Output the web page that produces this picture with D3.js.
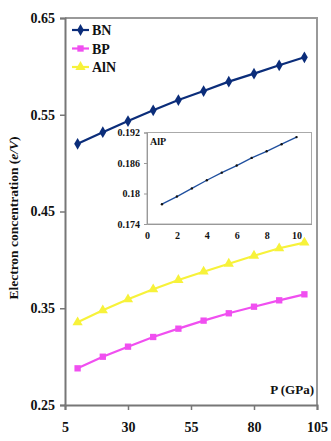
<!DOCTYPE html>
<html>
<head>
<meta charset="utf-8">
<script src="https://cdn.jsdelivr.net/npm/d3@7"></script>
<style>
  body { margin: 0; background: white; }
  svg { display: block; }
  svg text { font-family: "Liberation Serif", "Times New Roman", serif; font-weight: bold; fill: #111; }
</style>
</head>
<body>
<div id="chart"></div>
<script>
// Pressure (GPa)
const pressure = [10, 20, 30, 40, 50, 60, 70, 80, 90, 100];
// Electron concentration (e/V)
const bnValues  = [0.520, 0.532, 0.5435, 0.5546, 0.5652, 0.5745, 0.5842, 0.5925, 0.6011, 0.6094];
const bpValues  = [0.2879, 0.2999, 0.3103, 0.3203, 0.3289, 0.3372, 0.3448, 0.3516, 0.3582, 0.3644];
const alnValues = [0.3355, 0.3479, 0.3592, 0.3696, 0.3792, 0.3878, 0.3960, 0.4043, 0.4120, 0.4178];
// Inset AlP
const alpPressure = [1, 2, 3, 4, 5, 6, 7, 8, 9, 10];
const alpValues = [0.1779, 0.1794, 0.1810, 0.1826, 0.1841, 0.1855, 0.1870, 0.1883, 0.1897, 0.1911];

const xTicks = [5, 30, 55, 80, 105];
const yTicks = [0.25, 0.35, 0.45, 0.55, 0.65];
const insetXTicks = [0, 2, 4, 6, 8, 10];
const insetYTicks = [0.174, 0.18, 0.186, 0.192];

const series = [
  { name: "BN",  values: bnValues,  color: "#0b2d7a", symbol: d3.symbolDiamond,  size: 40 },
  { name: "BP",  values: bpValues,  color: "#f04ff0", symbol: d3.symbolSquare,   size: 40 },
  { name: "AlN", values: alnValues, color: "#f7f23a", symbol: d3.symbolTriangle, size: 45 }
];

const W = 331, H = 441;
const margin = { top: 18, right: 14, bottom: 36, left: 65 };
const width = W - margin.left - margin.right;
const height = H - margin.top - margin.bottom;

const svg = d3.select("#chart").append("svg")
    .attr("width", W)
    .attr("height", H);

const g = svg.append("g")
    .attr("transform", `translate(${margin.left},${margin.top})`);

// Escalas
const x = d3.scaleLinear().domain([5, 105]).range([0, width]);
const y = d3.scaleLinear().domain([0.25, 0.65]).range([height, 0]);

// Marco superior y derecho
g.append("path")
    .attr("d", `M0,0H${width}V${height}`)
    .attr("fill", "none")
    .attr("stroke", "#999")
    .attr("stroke-width", 2);

// Ejes
const xAxis = g.append("g")
    .attr("transform", `translate(0,${height})`)
    .call(d3.axisBottom(x).tickValues(xTicks).tickSize(5).tickPadding(12).tickFormat(d3.format("d")));
const yAxis = g.append("g")
    .call(d3.axisLeft(y).tickValues(yTicks).tickSize(5).tickPadding(5).tickFormat(d3.format(".2f")));

[xAxis, yAxis].forEach(a => {
  a.attr("font-family", null);
  a.select(".domain").attr("stroke", "#777").attr("stroke-width", 2);
  a.selectAll(".tick line").attr("stroke", "#777").attr("stroke-width", 1.5);
  a.selectAll(".tick text")
      .style("font-size", "14px")
      .attr("fill", "#111");
});

// Series
const line = d3.line()
    .x((d, i) => x(pressure[i]))
    .y(d => y(d));

series.forEach(s => {
  g.append("path")
      .datum(s.values)
      .attr("fill", "none")
      .attr("stroke", s.color)
      .attr("stroke-width", 2.2)
      .attr("d", line);

  g.selectAll(null)
      .data(s.values)
      .enter()
      .append("path")
      .attr("transform", (d, i) => `translate(${x(pressure[i])},${y(d)})`)
      .attr("d", d3.symbol().type(s.symbol).size(s.size))
      .attr("fill", s.color);
});

// Leyenda
const legend = g.append("g").attr("transform", "translate(7,12)");
series.forEach((s, i) => {
  const row = legend.append("g").attr("transform", `translate(0,${i * 18.5})`);
  row.append("line")
      .attr("x1", 0).attr("x2", 17)
      .attr("stroke", s.color).attr("stroke-width", 2.2);
  row.append("path")
      .attr("transform", "translate(8.5,0)")
      .attr("d", d3.symbol().type(s.symbol).size(s.size))
      .attr("fill", s.color);
  row.append("text")
      .attr("x", 20).attr("y", 5)
      .style("font-size", "14px")
      .text(s.name);
});

// Titulo eje X
g.append("text")
    .attr("x", width - 3)
    .attr("y", height - 11)
    .attr("text-anchor", "end")
    .style("font-size", "13px")
    .text("P (GPa)");

// Titulo eje Y
svg.append("text")
    .attr("transform", "translate(18,218) rotate(-90)")
    .attr("text-anchor", "middle")
    .style("font-size", "13.5px")
    .html('Electron concentration (<tspan font-style="italic">e/V</tspan>)');

// Inserto AlP
const inset = { left: 147, top: 132.5, width: 164.5, height: 91.5 };
const ix = d3.scaleLinear().domain([0, 11]).range([0, inset.width]);
const iy = d3.scaleLinear().domain([0.174, 0.192]).range([inset.height, 0]);

const ig = svg.append("g")
    .attr("transform", `translate(${inset.left},${inset.top})`);

ig.append("rect")
    .attr("width", inset.width)
    .attr("height", inset.height)
    .attr("fill", "white")
    .attr("stroke", "#aaa")
    .attr("stroke-width", 1);

const ixAxis = ig.append("g")
    .attr("transform", `translate(0,${inset.height})`)
    .call(d3.axisBottom(ix).tickValues(insetXTicks).tickSize(0).tickPadding(8));
const iyAxis = ig.append("g")
    .call(d3.axisLeft(iy).tickValues(insetYTicks).tickSize(3).tickPadding(4).tickFormat(d => String(+d.toFixed(3))));

[ixAxis, iyAxis].forEach(a => {
  a.attr("font-family", null);
  a.select(".domain").attr("stroke", "#999").attr("stroke-width", 1);
  a.selectAll(".tick line").attr("stroke", "#999");
  a.selectAll(".tick text")
      .style("font-size", "10px")
      .attr("fill", "#111");
});

ig.append("path")
    .datum(alpValues)
    .attr("fill", "none")
    .attr("stroke", "#1f4f9e")
    .attr("stroke-width", 1.3)
    .attr("d", d3.line().x((d, i) => ix(alpPressure[i])).y(d => iy(d)));

ig.selectAll(null)
    .data(alpValues)
    .enter()
    .append("circle")
    .attr("cx", (d, i) => ix(alpPressure[i]))
    .attr("cy", d => iy(d))
    .attr("r", 1.2)
    .attr("fill", "#111");

ig.append("text")
    .attr("x", 3)
    .attr("y", 12)
    .style("font-size", "10px")
    .text("AlP");
</script>
</body>
</html>
